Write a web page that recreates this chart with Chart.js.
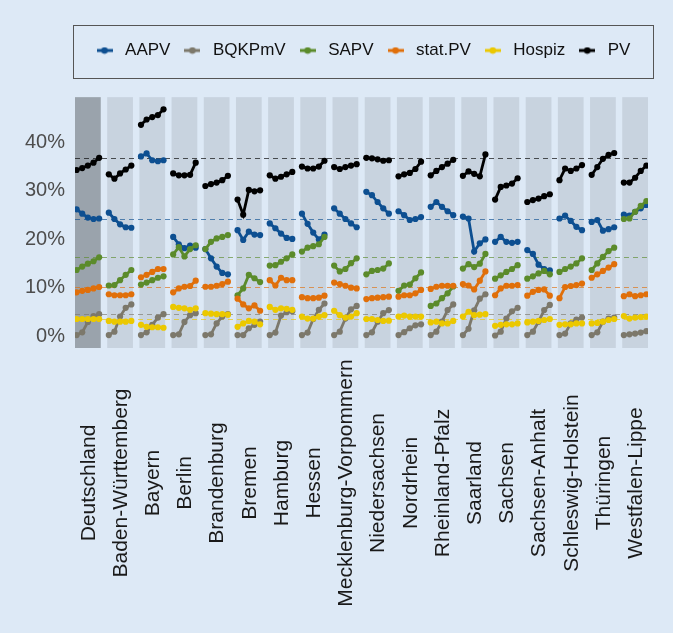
<!DOCTYPE html>
<html>
<head>
<meta charset="utf-8">
<script src="https://cdn.jsdelivr.net/npm/chart.js@4.4.1/dist/chart.umd.min.js"></script>
<style>
  html, body { margin: 0; padding: 0; background: #dde9f6; }
  #wrap { width: 673px; height: 633px; }
</style>
</head>
<body>
<div id="wrap"><canvas id="chart" width="673" height="633"></canvas></div>
<script>
// regions (panels) left to right
var regions = ['Deutschland', 'Baden-Württemberg', 'Bayern', 'Berlin', 'Brandenburg', 'Bremen',
  'Hamburg', 'Hessen', 'Mecklenburg-Vorpommern', 'Niedersachsen', 'Nordrhein', 'Rheinland-Pfalz',
  'Saarland', 'Sachsen', 'Sachsen-Anhalt', 'Schleswig-Holstein', 'Thüringen', 'Westfalen-Lippe']

var seriesNames = ['AAPV', 'BQKPmV', 'SAPV', 'stat.PV', 'Hospiz', 'PV']
var seriesColors = ['#0d4f91', '#7c786b', '#5b8b2b', '#e06f0a', '#ebc800', '#000000']

// one row per region, 5 values each (percent)
var aapv = [
  [26.2, 25.3, 24.5, 24.2, 24.3], [25.5, 24.2, 23.1, 22.5, 22.4], [37.1, 37.7, 36.3, 36.1, 36.3],
  [20.5, 19.0, 18.2, 18.7, 18.3], [18.0, 16.1, 14.4, 13.1, 12.8], [21.9, 19.9, 21.6, 21.0, 20.9],
  [23.3, 22.3, 21.2, 20.3, 20.1], [25.3, 23.2, 21.4, 20.0, 21.0], [26.4, 25.3, 24.2, 23.3, 22.5],
  [29.8, 29.1, 27.7, 26.4, 25.3], [25.8, 25.0, 24.0, 24.2, 24.6], [26.7, 27.7, 26.7, 25.8, 25.0],
  [24.7, 24.3, 17.5, 19.2, 20.0], [19.5, 20.5, 19.5, 19.3, 19.5], [17.8, 17.0, 14.8, 13.9, 13.6],
  [24.3, 24.9, 23.8, 22.6, 21.9], [23.6, 24.0, 21.8, 22.1, 22.5], [25.1, 24.9, 25.7, 26.4, 27.1]
]
var bqkpmv = [
  [0.3, 0.85, 3.0, 4.2, 4.6], [0.3, 1.0, 4.1, 5.9, 6.6], [0.3, 0.85, 2.4, 3.9, 4.6],
  [0.3, 0.45, 3.0, 4.4, 4.8], [0.3, 0.45, 2.7, 4.1, 4.6], [0.3, 0.3, 1.7, 2.4, 3.05],
  [0.3, 0.8, 4.3, 5.0, 5.2], [0.3, 0.8, 3.6, 5.5, 6.8], [0.3, 1.0, 3.7, 5.6, 6.3],
  [0.3, 0.85, 3.05, 4.8, 5.45], [0.3, 0.9, 1.7, 2.3, 2.5], [0.3, 1.0, 3.05, 5.45, 6.6],
  [0.3, 1.6, 5.4, 7.8, 8.7], [0.2, 1.0, 3.7, 5.2, 5.9], [0.3, 1.0, 3.05, 5.45, 6.5],
  [0.3, 0.6, 2.7, 3.5, 3.9], [0.3, 0.85, 3.05, 3.7, 3.9], [0.3, 0.45, 0.6, 0.8, 1.1]
]
var sapv = [
  [13.7, 14.4, 15.0, 15.5, 16.3], [10.5, 10.6, 11.6, 12.7, 13.7], [10.7, 11.1, 11.6, 12.1, 12.4],
  [16.9, 18.4, 16.5, 18.0, 18.8], [18.0, 19.5, 20.2, 20.5, 20.9], [8.5, 9.9, 12.7, 12.0, 11.2],
  [14.6, 14.7, 15.4, 16.1, 16.9], [17.5, 18.3, 18.6, 19.0, 20.5], [14.6, 13.4, 13.9, 15.1, 16.1],
  [12.8, 13.5, 13.7, 14.0, 15.05], [9.4, 10.5, 10.7, 12.0, 13.2], [6.3, 6.8, 7.9, 8.9, 10.3],
  [14.0, 14.9, 14.3, 15.0, 17.0], [11.9, 12.6, 13.3, 13.9, 14.7], [11.9, 12.4, 13.0, 13.5, 12.8],
  [13.3, 13.9, 14.4, 15.05, 16.1], [13.7, 15.05, 16.4, 17.6, 18.3], [24.2, 24.3, 25.7, 26.9, 27.9]
]
var statPv = [
  [9.1, 9.4, 9.6, 9.9, 10.2], [8.7, 8.5, 8.5, 8.5, 8.7], [12.2, 12.7, 13.3, 13.9, 13.9],
  [9.1, 9.9, 10.25, 10.4, 11.5], [10.25, 10.25, 10.45, 10.8, 11.3], [7.8, 6.6, 5.8, 6.4, 5.3],
  [11.6, 10.5, 12.1, 11.6, 11.6], [8.1, 7.9, 7.9, 8.0, 8.4], [11.1, 10.8, 10.45, 10.05, 9.9],
  [7.7, 7.9, 8.0, 8.1, 8.2], [8.2, 8.5, 8.5, 8.9, 9.6], [9.8, 10.25, 10.45, 10.45, 10.45],
  [10.8, 10.5, 9.7, 11.5, 13.4], [8.5, 9.9, 10.45, 10.45, 10.6], [8.4, 9.2, 9.6, 9.7, 8.4],
  [7.9, 10.2, 10.4, 10.6, 10.9], [12.1, 12.8, 13.5, 14.2, 14.9], [8.3, 8.7, 8.3, 8.5, 8.7]
]
var hospiz = [
  [3.6, 3.6, 3.6, 3.6, 3.6], [3.2, 3.05, 3.05, 3.05, 3.2], [2.4, 2.0, 1.9, 1.9, 1.8],
  [6.1, 5.9, 5.8, 5.5, 5.8], [4.8, 4.7, 4.6, 4.6, 4.5], [2.0, 2.7, 3.2, 3.05, 2.5],
  [6.1, 5.5, 5.8, 5.7, 5.5], [4.1, 3.7, 3.7, 4.1, 4.4], [5.3, 4.4, 3.9, 4.1, 4.8],
  [3.6, 3.6, 3.4, 3.2, 3.25], [4.1, 4.3, 4.1, 4.1, 4.1], [2.9, 3.05, 2.7, 2.7, 3.2],
  [4.1, 5.1, 4.4, 4.5, 4.6], [2.2, 2.4, 2.5, 2.5, 2.7], [2.9, 3.05, 3.2, 3.4, 3.6],
  [2.4, 2.5, 2.5, 2.7, 2.7], [2.7, 2.8, 3.05, 3.4, 3.6], [4.2, 3.7, 3.9, 4.0, 4.1]
]
var pv = [
  [34.3, 34.7, 35.2, 35.8, 36.8], [33.4, 32.5, 33.6, 34.4, 35.2], [43.6, 44.7, 45.2, 45.6, 46.8],
  [33.6, 33.2, 33.2, 33.3, 35.8], [31.0, 31.4, 31.7, 32.2, 33.1], [28.2, 25.1, 30.2, 29.9, 30.1],
  [33.2, 32.5, 32.9, 33.4, 33.9], [35.0, 34.6, 34.6, 35.0, 36.2], [34.9, 34.5, 34.9, 35.2, 35.5],
  [36.8, 36.7, 36.5, 36.2, 36.3], [33.0, 33.4, 33.7, 34.5, 36.0], [33.2, 34.1, 34.9, 35.6, 36.4],
  [33.1, 34.0, 33.5, 33.0, 37.5], [28.2, 30.8, 31.1, 31.5, 32.6], [27.7, 28.1, 28.4, 28.9, 29.3],
  [32.2, 34.6, 34.1, 34.6, 35.3], [33.3, 34.9, 36.6, 37.4, 37.8], [31.7, 31.7, 32.7, 34.1, 35.2]
]
var seriesValues = [aapv, bqkpmv, sapv, statPv, hospiz, pv]

var yTicks = [0, 10, 20, 30, 40]

var BG = '#dde9f6'
var PANEL = '#c8d3df'
var PANEL_DE = '#9aa3ac'
var step = 0.175      // spacing of the 5 points inside a panel (x units)
var halfPanel = 0.4
var panelTop = 49.3, panelBottom = -2.37

Chart.defaults.font.family = "'Liberation Sans', Arial, sans-serif"

function buildPoints(values) {
  var pts = []
  values.forEach(function(row, i) {
    row.forEach(function(v, j) {
      pts.push({ x: i + (j - 2) * step, y: v })
    })
    pts.push({ x: i + 0.5, y: null })   // break between panels
  })
  return pts
}

// legend key: short line with a dot
function makeKey(color) {
  var c = document.createElement('canvas')
  c.width = 16; c.height = 8
  var g = c.getContext('2d')
  g.strokeStyle = color; g.lineWidth = 3
  g.beginPath(); g.moveTo(0, 4); g.lineTo(16, 4); g.stroke()
  g.fillStyle = color
  g.beginPath(); g.arc(8, 4, 3.3, 0, Math.PI * 2); g.fill()
  return c
}

var datasets = seriesNames.map(function(name, s) {
  return {
    label: name,
    data: buildPoints(seriesValues[s]),
    borderColor: seriesColors[s],
    backgroundColor: seriesColors[s],
    borderWidth: 2.8,
    pointRadius: 3.1,
    pointBorderWidth: 0,
    pointHoverRadius: 3,
    spanGaps: false,
    tension: 0,
    order: seriesNames.length - s
  }
})

var panelsPlugin = {
  id: 'panels',
  beforeDraw: function(chart) {
    var ctx = chart.ctx
    ctx.save()
    ctx.fillStyle = BG
    ctx.fillRect(0, 0, chart.width, chart.height)
    ctx.restore()
  },
  beforeDatasetsDraw: function(chart) {
    var ctx = chart.ctx, x = chart.scales.x, y = chart.scales.y
    var top = y.getPixelForValue(panelTop), bottom = y.getPixelForValue(panelBottom)
    ctx.save()
    regions.forEach(function(r, i) {
      var l = x.getPixelForValue(i - halfPanel), rr = x.getPixelForValue(i + halfPanel)
      ctx.fillStyle = i === 0 ? PANEL_DE : PANEL
      ctx.fillRect(l, top, rr - l, bottom - top)
    })
    // reference lines at the Deutschland value of the last point
    ctx.lineWidth = 1
    ctx.setLineDash([5, 4])
    ctx.globalAlpha = 0.65
    seriesValues.forEach(function(vals, s) {
      var yy = Math.round(y.getPixelForValue(vals[0][4])) + 0.5
      ctx.strokeStyle = seriesColors[s]
      ctx.beginPath()
      ctx.moveTo(chart.chartArea.left, yy)
      ctx.lineTo(chart.chartArea.right, yy)
      ctx.stroke()
    })
    ctx.restore()
  },
  afterDraw: function(chart) {
    var ctx = chart.ctx, x = chart.scales.x
    // region names, rotated and centred under each panel
    ctx.save()
    ctx.fillStyle = '#1a1a1a'
    ctx.font = "21px 'Liberation Sans', Arial, sans-serif"
    ctx.textAlign = 'center'
    ctx.textBaseline = 'middle'
    regions.forEach(function(r, i) {
      ctx.save()
      ctx.translate(x.getPixelForValue(i) + 1, 483)
      ctx.rotate(-Math.PI / 2)
      ctx.fillText(r, 0, 0)
      ctx.restore()
    })
    // frame round the legend
    var lg = chart.legend
    var fTop = lg.top - 6.5, fBottom = lg.bottom + 9.5
    ctx.strokeStyle = '#555'
    ctx.lineWidth = 1
    ctx.strokeRect(chart.chartArea.left - 1.5, fTop, chart.chartArea.right - chart.chartArea.left + 7, fBottom - fTop)
    ctx.restore()
  }
}

new Chart(document.getElementById('chart'), {
  type: 'line',
  data: { datasets: datasets },
  options: {
    responsive: false,
    animation: false,
    layout: { padding: { top: 32, right: 25, bottom: 285, left: 0 } },
    plugins: {
      tooltip: { enabled: false },
      legend: {
        position: 'top',
        fullSize: false,
        labels: {
          usePointStyle: true,
          pointStyleWidth: 24,
          padding: 10,
          color: '#111',
          font: { size: 17 },
          generateLabels: function(chart) {
            return chart.data.datasets.map(function(ds, i) {
              return {
                text: ds.label,
                pointStyle: makeKey(ds.borderColor),
                fillStyle: ds.borderColor,
                strokeStyle: ds.borderColor,
                lineWidth: 0,
                hidden: false,
                datasetIndex: i,
                fontColor: '#111'
              }
            })
          }
        }
      }
    },
    scales: {
      x: {
        type: 'linear',
        display: false,
        min: -halfPanel,
        max: regions.length - 1 + halfPanel
      },
      y: {
        min: -2.37,
        max: 55.1,
        grid: { display: false, drawTicks: false },
        border: { display: false },
        afterBuildTicks: function(axis) {
          axis.ticks = yTicks.map(function(v) { return { value: v } })
        },
        afterFit: function(axis) { axis.width = 75 },
        ticks: {
          padding: 10,
          color: '#4d4d4d',
          font: { size: 20 },
          callback: function(v) { return v + '%' }
        }
      }
    }
  },
  plugins: [panelsPlugin]
})
</script>
</body>
</html>
